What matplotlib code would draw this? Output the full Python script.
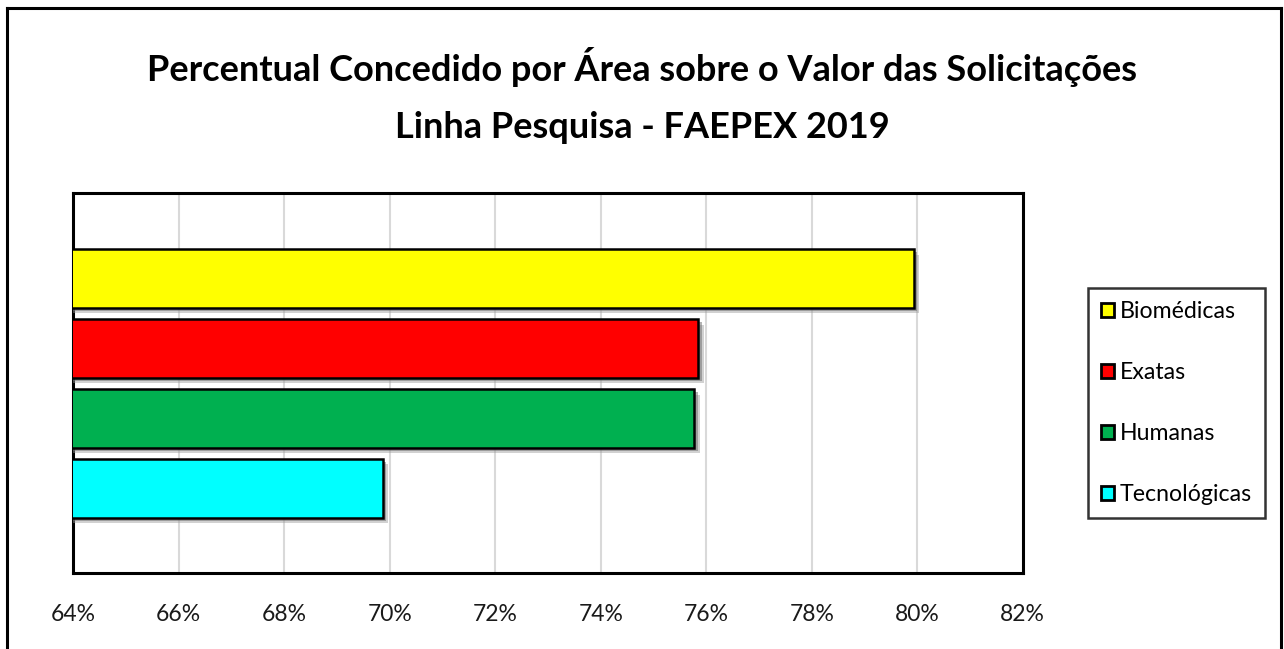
import matplotlib
matplotlib.use("Agg")
import matplotlib.pyplot as plt
import matplotlib.patheffects as pe
from matplotlib.lines import Line2D
from matplotlib.ticker import PercentFormatter, MultipleLocator

# dados
areas = ["Biomédicas", "Exatas", "Humanas", "Tecnológicas"]
percentual = [79.93, 75.85, 75.77, 69.87]
cores = ["#ffff00", "#ff0000", "#00b050", "#00ffff"]

titulo1 = "Percentual Concedido por Área sobre o Valor das Solicitações"
titulo2 = "Linha Pesquisa - FAEPEX 2019"

plt.rcParams["font.family"] = ["Lato", "DejaVu Sans"]

W, H = 1284, 649
fig = plt.figure(figsize=(W / 100, H / 100), dpi=100)
ax = fig.add_axes([73.2 / W, 1 - 573 / H, (1022.7 - 73.2) / W, (573 - 193) / H])

pos = list(range(len(areas)))
bars = ax.barh(pos, percentual, height=0.84, color=cores, edgecolor="black",
               linewidth=1.8, zorder=3)
sombra = [pe.SimplePatchShadow(offset=(4, -4), shadow_rgbFace="#9a9a9a", alpha=0.45),
          pe.SimplePatchShadow(offset=(2.5, -2.5), shadow_rgbFace="#6a6a6a", alpha=0.5),
          pe.Normal()]
for b in bars:
    b.set_path_effects(sombra)

ax.set_xlim(64, 82)
ax.set_ylim(4.21, -1.22)
ax.xaxis.set_major_locator(MultipleLocator(2))
ax.xaxis.set_major_formatter(PercentFormatter(xmax=100, decimals=0))
ax.set_yticks([])
ax.tick_params(axis="x", length=0, pad=22, labelsize=16.5, colors="#1a1a1a")
ax.grid(axis="x", color="#d9d9d9", linewidth=1.5, zorder=0)
ax.set_axisbelow(True)
for s in ax.spines.values():
    s.set_linewidth(2.2)
    s.set_color("black")

leg = fig.legend(handles=list(bars), labels=areas, loc="center left",
                 bbox_to_anchor=(1088 / W, 1 - 403 / H), borderaxespad=0,
                 fontsize=16.7, frameon=True, fancybox=False, edgecolor="black",
                 handlelength=0.55, handleheight=0.55, handletextpad=0.28,
                 labelspacing=1.72, borderpad=0.55)
leg.get_frame().set_linewidth(1.8)
for h in leg.legend_handles:
    h.set_path_effects([])
    h.set_linewidth(2)

fig.text(0.5, 1 - 67 / H, titulo1, ha="center", va="center", fontsize=26, fontweight="bold")
fig.text(0.5, 1 - 127 / H, titulo2, ha="center", va="center", fontsize=26, fontweight="bold")

# moldura externa (cortada embaixo)
kw = dict(color="black", linewidth=2.2, transform=fig.transFigure)
fig.add_artist(Line2D([7 / W, 7 / W], [0, 1 - 8 / H], **kw))
fig.add_artist(Line2D([7 / W, 1281 / W], [1 - 8 / H, 1 - 8 / H], **kw))
fig.add_artist(Line2D([1281 / W, 1281 / W], [0, 1 - 8 / H], **kw))

fig.savefig("out.png", dpi=100)
